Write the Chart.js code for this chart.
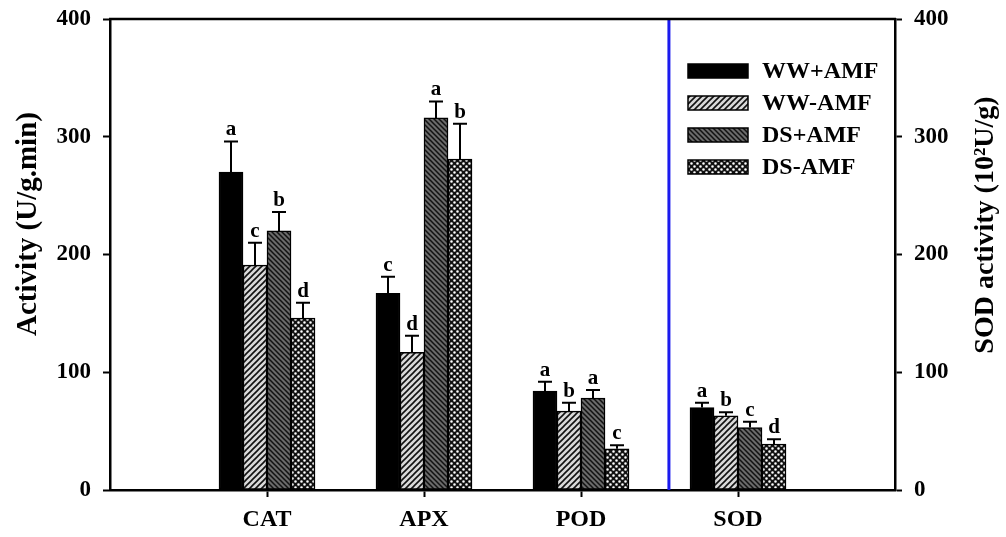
<!DOCTYPE html>
<html>
<head>
<meta charset="utf-8">
<script src="https://cdn.jsdelivr.net/npm/chart.js@4.4.1/dist/chart.umd.min.js"></script>
<style>
  body { margin: 0; background: #fff; }
</style>
</head>
<body>
<canvas id="myChart" width="1006" height="537"></canvas>
<script>
// categories (empty slots at both ends keep the axis frame wide)
let categories = ["CAT", "APX", "POD", "SOD"];
let seriesNames = ["WW+AMF", "WW-AMF", "DS+AMF", "DS-AMF"];

let wwPlus = [270, 167, 84, 70];
let wwMinus = [191, 117, 67, 63];
let dsPlus = [220, 316, 78, 53];
let dsMinus = [146, 281, 35, 39];

let wwPlusErr = [26, 14, 8, 4];
let wwMinusErr = [19, 14, 7, 3];
let dsPlusErr = [16, 14, 7, 5];
let dsMinusErr = [13, 30, 3, 4];

let wwPlusLetters = ["a", "c", "a", "a"];
let wwMinusLetters = ["c", "d", "b", "b"];
let dsPlusLetters = ["b", "a", "a", "c"];
let dsMinusLetters = ["d", "b", "c", "d"];

let yTicks = [0, 100, 200, 300, 400];
let dividerAt = 3.56; // blue line between POD and SOD

const FONT = "'Liberation Serif', 'Times New Roman', serif";
var canvas = document.getElementById("myChart");
var ctx = canvas.getContext("2d");

function makePattern(size, draw) {
  let tile = document.createElement("canvas");
  tile.width = size;
  tile.height = size;
  let t = tile.getContext("2d");
  draw(t, size);
  return ctx.createPattern(tile, "repeat");
}

let hatchUp = makePattern(6, (t, s) => {
  t.fillStyle = "#d9d9d9";
  t.fillRect(0, 0, s, s);
  t.strokeStyle = "#111";
  t.lineWidth = 1.6;
  t.beginPath();
  t.moveTo(-1, s + 1); t.lineTo(s + 1, -1);
  t.moveTo(-1, 1); t.lineTo(1, -1);
  t.moveTo(s - 1, s + 1); t.lineTo(s + 1, s - 1);
  t.stroke();
});
let hatchDown = makePattern(5, (t, s) => {
  t.fillStyle = "#6a6a6a";
  t.fillRect(0, 0, s, s);
  t.strokeStyle = "#111";
  t.lineWidth = 1.5;
  t.beginPath();
  t.moveTo(-1, -1); t.lineTo(s + 1, s + 1);
  t.moveTo(s - 1, -1); t.lineTo(s + 1, 1);
  t.moveTo(-1, s - 1); t.lineTo(1, s + 1);
  t.stroke();
});
let dots = makePattern(6, (t, s) => {
  t.fillStyle = "#111";
  t.fillRect(0, 0, s, s);
  t.fillStyle = "#fff";
  t.beginPath();
  t.arc(1.5, 1.5, 1.3, 0, Math.PI * 2);
  t.arc(4.5, 4.5, 1.3, 0, Math.PI * 2);
  t.fill();
});

let pad = (arr) => [null].concat(arr, [null]);
let labels = [""].concat(categories, [""]);

let seriesValues = [wwPlus, wwMinus, dsPlus, dsMinus];
let seriesErr = [wwPlusErr, wwMinusErr, dsPlusErr, dsMinusErr];
let seriesLetters = [wwPlusLetters, wwMinusLetters, dsPlusLetters, dsMinusLetters];
let fills = ["#000", hatchUp, hatchDown, dots];

let datasets = seriesNames.map((name, i) => ({
  label: name,
  data: pad(seriesValues[i]),
  backgroundColor: fills[i],
  borderColor: "#000",
  borderWidth: 1.5,
  borderSkipped: false,
  barThickness: 24,
}));

const extras = {
  id: "extras",
  afterDatasetsDraw(chart) {
    const c = chart.ctx;
    const y = chart.scales.y;
    const x = chart.scales.x;
    const area = chart.chartArea;
    c.save();
    // error bars + letters
    chart.data.datasets.forEach((ds, i) => {
      const meta = chart.getDatasetMeta(i);
      meta.data.forEach((bar, j) => {
        const v = ds.data[j];
        if (v === null) return;
        const e = seriesErr[i][j - 1];
        const yTop = y.getPixelForValue(v + e);
        c.strokeStyle = "#000";
        c.lineWidth = 2;
        c.beginPath();
        c.moveTo(bar.x, bar.y);
        c.lineTo(bar.x, yTop);
        c.moveTo(bar.x - 7, yTop);
        c.lineTo(bar.x + 7, yTop);
        c.stroke();
        c.fillStyle = "#000";
        c.font = "bold 21px " + FONT;
        c.textAlign = "center";
        c.textBaseline = "bottom";
        c.fillText(seriesLetters[i][j - 1], bar.x, yTop - 1);
      });
    });
    // blue divider
    const xd = x.getPixelForValue(dividerAt);
    c.strokeStyle = "#1a1aee";
    c.lineWidth = 3;
    c.beginPath();
    c.moveTo(xd, area.top);
    c.lineTo(xd, area.bottom);
    c.stroke();
    // top frame line
    c.strokeStyle = "#000";
    c.lineWidth = 2.5;
    c.beginPath();
    c.moveTo(area.left - 1, area.top);
    c.lineTo(area.right + 1, area.top);
    c.stroke();
    // legend
    const rows = [71, 103, 135, 167];
    c.font = "bold 24px " + FONT;
    c.textAlign = "left";
    c.textBaseline = "middle";
    seriesNames.forEach((name, i) => {
      c.fillStyle = fills[i];
      c.fillRect(688, rows[i] - 7, 60, 14);
      c.strokeStyle = "#000";
      c.lineWidth = 1.5;
      c.strokeRect(688, rows[i] - 7, 60, 14);
      c.fillStyle = "#000";
      c.fillText(name, 762, rows[i] + 1);
    });
    // axis titles
    c.font = "bold 29px " + FONT;
    c.textAlign = "center";
    c.textBaseline = "middle";
    c.save();
    c.translate(29, 224);
    c.rotate(-Math.PI / 2);
    c.fillText("Activity (U/g.min)", 0, 0);
    c.restore();
    c.font = "bold 28px " + FONT;
    c.save();
    c.translate(986, 225);
    c.rotate(-Math.PI / 2);
    c.fillText("SOD activity (10\u00b2U/g)", 0, 0);
    c.restore();
    c.restore();
  },
};

let yAxis = (pos, width) => ({
  position: pos,
  min: 0,
  max: 400,
  afterBuildTicks: (s) => { s.ticks = yTicks.map((v) => ({ value: v })); },
  afterFit: (s) => {
    s.width = width;
    s.paddingTop = 0;
    s.paddingBottom = 0;
  },
  ticks: {
    color: "#000",
    padding: 12,
    font: { family: FONT, size: 23, weight: "bold" },
  },
  grid: {
    drawOnChartArea: false,
    tickLength: 7,
    tickWidth: 2,
    color: "#000",
  },
  border: { display: true, color: "#000", width: 2.5 },
});

var myChart = new Chart(ctx, {
  type: "bar",
  data: {
    labels: labels,
    datasets: datasets,
  },
  plugins: [extras],
  options: {
    responsive: false,
    animation: false,
    layout: { padding: { top: 19, left: 0, right: 0, bottom: 0 } },
    plugins: {
      legend: { display: false },
      tooltip: { enabled: false },
    },
    scales: {
      x: {
        offset: false,
        afterFit: (s) => { s.height = 47; },
        ticks: {
          color: "#000",
          padding: 8,
          maxRotation: 0,
          autoSkip: false,
          font: { family: FONT, size: 24, weight: "bold" },
        },
        grid: {
          offset: false,
          drawOnChartArea: false,
          tickLength: 7,
          tickWidth: 2,
          color: "#000",
          tickColor: (c) => (c.index === 0 || c.index === labels.length - 1 ? "rgba(0,0,0,0)" : "#000"),
        },
        border: { display: true, color: "#000", width: 2.5 },
      },
      y: yAxis("left", 110),
      y2: yAxis("right", 111),
    },
  },
});
</script>
</body>
</html>
